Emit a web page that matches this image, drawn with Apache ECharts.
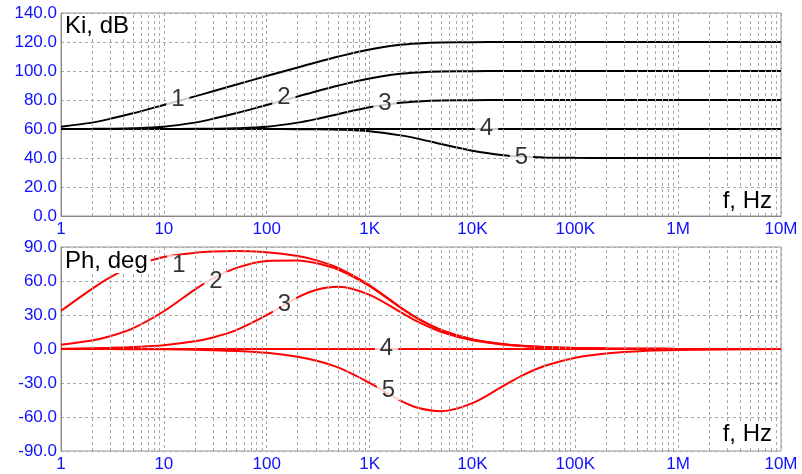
<!DOCTYPE html>
<html>
<head>
<meta charset="utf-8">
<script src="https://cdn.jsdelivr.net/npm/echarts@6/dist/echarts.min.js"></script>
<style>
  html, body { margin: 0; padding: 0; background: #fff; }
  #container { width: 802px; height: 474px; }
</style>
</head>
<body>
<div id="container"></div>
<script>
// frequencies, Hz
var freq = [1, 2, 3, 5, 10, 20, 30, 50, 100, 200, 300, 500, 1e3, 2e3, 3e3, 5e3, 1e4, 2e4, 3e4, 5e4, 1e5, 2e5, 5e5, 1e6, 1e7];

// Ki, dB
var gain1 = [61.6, 64.4, 67.0, 70.8, 76.6, 82.5, 86.0, 90.5, 96.5, 102.4, 105.9, 110.0, 114.9, 118.1, 119.0, 119.6, 119.9, 120, 120, 120, 120, 120, 120, 120, 120];
var gain2 = [60.0, 60.1, 60.2, 60.5, 61.6, 64.4, 67.0, 70.8, 76.6, 82.4, 85.9, 90.0, 94.9, 98.1, 99.0, 99.6, 99.9, 100, 100, 100, 100, 100, 100, 100, 100];
var gain3 = [60, 60, 60, 60, 60, 60.1, 60.2, 60.5, 61.6, 64.4, 66.8, 70.4, 75.0, 78.1, 79.0, 79.6, 79.9, 80, 80, 80, 80, 80, 80, 80, 80];
var gain4 = [60, 60, 60, 60, 60, 60, 60, 60, 60, 60, 60, 60, 60, 60, 60, 60, 60, 60, 60, 60, 60, 60, 60, 60, 60];
var gain5 = [60, 60, 60, 60, 60, 60, 60, 60, 60, 59.9, 59.8, 59.5, 58.4, 55.6, 53.2, 49.6, 45.0, 41.9, 41.0, 40.4, 40.1, 40, 40, 40, 40];

// Ph, deg
var phase1 = [33.7, 53.1, 63.3, 73.1, 81.1, 84.9, 86.0, 86.4, 85.3, 82.0, 78.4, 71.4, 56.2, 36.8, 26.5, 16.7, 8.5, 4.3, 2.9, 1.7, 0.9, 0.4, 0.2, 0.1, 0];
var phase2 = [3.8, 7.5, 11.2, 18.2, 33.3, 52.4, 62.3, 71.4, 77.7, 78.1, 75.8, 69.9, 55.5, 36.4, 26.3, 16.5, 8.4, 4.2, 2.8, 1.7, 0.8, 0.4, 0.2, 0.1, 0];
var phase3 = [0.3, 0.7, 1.0, 1.7, 3.4, 6.8, 10.2, 16.5, 29.9, 45.5, 52.1, 54.9, 47.8, 32.6, 23.7, 15.0, 7.7, 3.9, 2.6, 1.5, 0.8, 0.4, 0.2, 0.1, 0];
var phase4 = [0, 0, 0, 0, 0, 0, 0, 0, 0, 0, 0, 0, 0, 0, 0, 0, 0, 0, 0, 0, 0, 0, 0, 0, 0];
var phase5 = [0, -0.1, -0.1, -0.2, -0.3, -0.7, -1.0, -1.7, -3.4, -6.8, -10.2, -16.5, -29.9, -45.5, -52.1, -54.9, -47.8, -32.6, -23.7, -15.0, -7.7, -3.9, -1.5, -0.8, -0.1];

// curve number labels [f, value, text]
var gainLabels = [[13.7, 80.5, '1'], [147, 81.5, '2'], [1413, 78, '3'], [13700, 60.5, '4'], [30000, 40.3, '5']];
var phaseLabels = [[14, 74, '1'], [32, 59.7, '2'], [149, 39.8, '3'], [1462, 0.4, '4'], [1528, -36.3, '5']];

var xTickLabels = ['1', '10', '100', '1K', '10K', '100K', '1M', '10M'];

var dom = document.getElementById('container');
var myChart = echarts.init(dom);
var FONT = 'Arial, "Liberation Sans", sans-serif';
var gridGray = '#a8a8a8';

function pairs(ys) {
  return freq.map(function (f, i) { return [f, ys[i]]; });
}

// minor log grid lines 2..9 per decade
var minorLines = [];
for (var d = 1; d < 1e7; d *= 10) {
  for (var k = 2; k <= 9; k++) minorLines.push({ xAxis: k * d });
}

function gridSeries(idx) {
  return {
    type: 'line', xAxisIndex: idx, yAxisIndex: idx, z: 1,
    data: [[1, idx === 0 ? 0 : -90]], symbol: 'none', silent: true,
    lineStyle: { opacity: 0 },
    markLine: {
      silent: true, symbol: ['none', 'none'], animation: false,
      label: { show: false },
      lineStyle: { color: gridGray, type: [3, 3], width: 1 },
      data: minorLines
    }
  };
}

function curve(idx, ys, color) {
  return {
    type: 'line', xAxisIndex: idx, yAxisIndex: idx, z: 3,
    data: pairs(ys), smooth: 0.3, symbol: 'none',
    lineStyle: { color: color, width: 2 }
  };
}

function labelSeries(idx, items) {
  return {
    type: 'scatter', xAxisIndex: idx, yAxisIndex: idx, z: 5,
    data: items, symbolSize: 0, silent: true,
    label: {
      show: true, position: 'inside', formatter: function (p) { return p.data[2]; },
      color: '#000', fontSize: 24, fontFamily: FONT,
      backgroundColor: '#fff', padding: [0, 5], lineHeight: 20
    }
  };
}

function xAxisFor(idx) {
  return {
    type: 'log', logBase: 10, min: 1, max: 1e7, gridIndex: idx,
    axisLine: { show: true, lineStyle: { color: '#888', width: 1 } },
    axisTick: { show: false },
    splitLine: { show: true, lineStyle: { color: gridGray, type: [3, 3] } },
    axisLabel: {
      color: '#1010ff', fontSize: 17, fontFamily: FONT, margin: 5,
      formatter: function (v) { return xTickLabels[Math.round(Math.log10(v))]; }
    }
  };
}

function yAxisFor(idx, min, max, step) {
  return {
    type: 'value', min: min, max: max, interval: step, gridIndex: idx,
    axisLine: { show: true, lineStyle: { color: '#888', width: 1 } },
    axisTick: { show: false },
    splitLine: { show: true, lineStyle: { color: gridGray, type: [3, 3] } },
    axisLabel: {
      color: '#1010ff', fontSize: 17, fontFamily: FONT, margin: 4,
      formatter: function (v) { return v.toFixed(1); }
    }
  };
}

option = {
  animation: false,
  backgroundColor: '#fff',
  grid: [
    { left: 61, top: 13, width: 720, height: 203, show: true, borderColor: '#999', borderWidth: 1 },
    { left: 61, top: 247, width: 720, height: 204, show: true, borderColor: '#999', borderWidth: 1 }
  ],
  xAxis: [xAxisFor(0), xAxisFor(1)],
  yAxis: [yAxisFor(0, 0, 140, 20), yAxisFor(1, -90, 90, 30)],
  graphic: [
    { type: 'text', left: 63, top: 14, z: 100,
      style: { text: 'Ki, dB', font: '24px ' + FONT, fill: '#000', backgroundColor: '#fff', padding: [0, 3, 0, 2] } },
    { type: 'text', left: 63, top: 249, z: 100,
      style: { text: 'Ph, deg', font: '24px ' + FONT, fill: '#000', backgroundColor: '#fff', padding: [0, 3, 0, 2] } },
    { type: 'text', right: 28, top: 189, z: 100,
      style: { text: 'f, Hz', font: '24px ' + FONT, fill: '#000', backgroundColor: '#fff', padding: [0, 2, 0, 3] } },
    { type: 'text', right: 28, top: 422, z: 100,
      style: { text: 'f, Hz', font: '24px ' + FONT, fill: '#000', backgroundColor: '#fff', padding: [0, 2, 0, 3] } }
  ],
  series: [
    gridSeries(0), gridSeries(1),
    curve(0, gain1, '#000'), curve(0, gain2, '#000'), curve(0, gain3, '#000'),
    curve(0, gain4, '#000'), curve(0, gain5, '#000'),
    curve(1, phase1, '#ff0000'), curve(1, phase2, '#ff0000'), curve(1, phase3, '#ff0000'),
    curve(1, phase4, '#ff0000'), curve(1, phase5, '#ff0000'),
    labelSeries(0, gainLabels), labelSeries(1, phaseLabels)
  ]
};

if (option && typeof option === 'object') {
  myChart.setOption(option, true);
}
</script>
</body>
</html>
